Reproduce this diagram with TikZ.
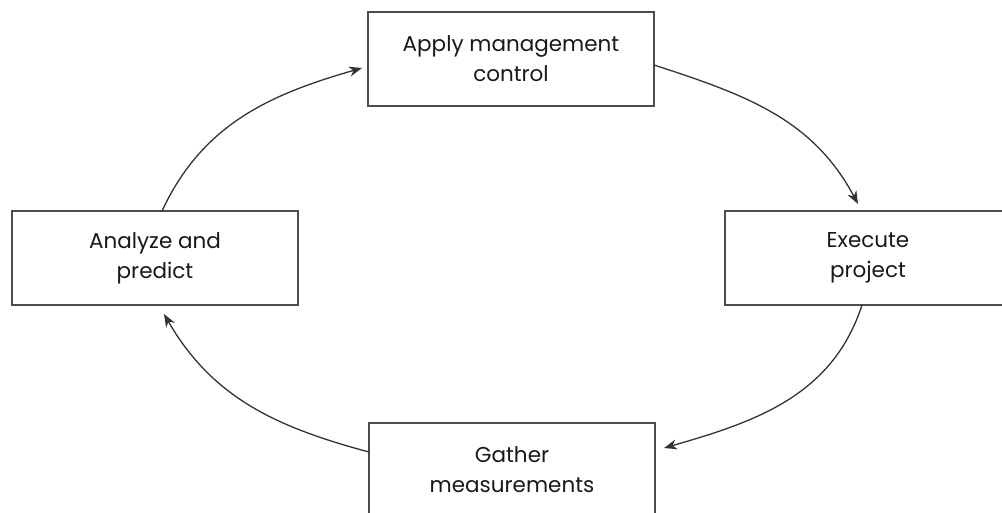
\documentclass[tikz,border=0pt]{standalone}
\usepackage{fontspec}
\setmainfont{Poppins}
\usetikzlibrary{arrows.meta}
\begin{document}
\begin{tikzpicture}[x=1pt,y=-1pt,
  box/.style={draw=black!70, line width=1.6pt, fill=white, minimum width=286pt, minimum height=94pt, align=center, inner sep=0pt, font=\fontsize{21.5}{30}\selectfont, text=black!90},
  link/.style={draw=black!80, line width=1.3pt, -{Stealth[length=13pt,width=10pt]}}]
\useasboundingbox (0,0) rectangle (1002,512);
\clip (0,0) rectangle (1002,512);
\node[box] (apply) at (511,59) {Apply management\\control};
\node[box] (analyze) at (155,258) {Analyze and\\predict};
\node[box] (execute) at (868,258) {Execute\\project};
\node[box] (gather) at (512,470) {Gather\\measurements};
\coordinate (a1) at (162,211);
\coordinate (a2) at (362,68);
\coordinate (b1) at (654,65);
\coordinate (b2) at (858,204);
\coordinate (c1) at (862,305);
\coordinate (c2) at (664,448);
\coordinate (d1) at (369,452);
\coordinate (d2) at (164,314);
\draw[link] (a1) to[out=65,in=196] (a2);
\draw[link] (b1) to[out=-18,in=118] (b2);
\draw[link] (c1) to[out=-108,in=16] (c2);
\draw[link] (d1) to[out=165,in=-60] (d2);
\end{tikzpicture}
\end{document}
